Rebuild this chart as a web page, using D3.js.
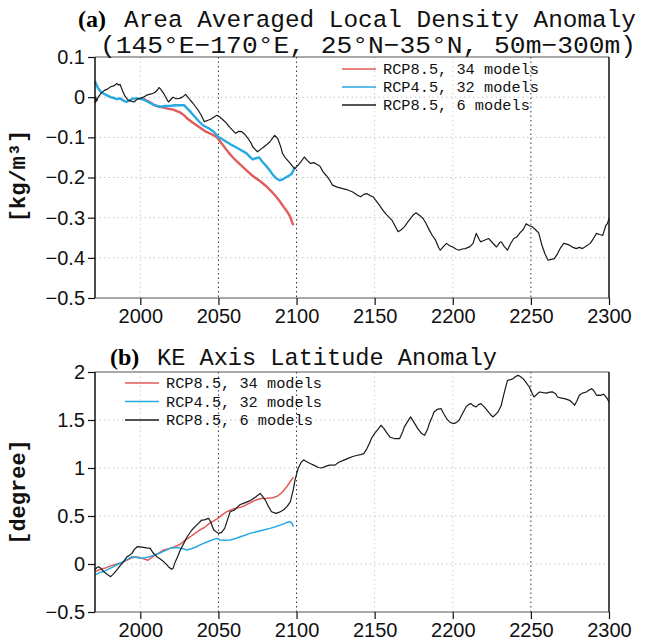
<!DOCTYPE html>
<html>
<head>
<meta charset="utf-8">
<title>Density and KE axis anomaly</title>
<script src="https://cdn.jsdelivr.net/npm/d3@7"></script>
<style>
  body { margin: 0; background: #fff; }
  svg { display: block; }
  .axis text { font-family: "Liberation Sans", Arial, sans-serif; font-size: 20px; fill: #111; }
  .axis path { display: none; }
  .axis line { stroke: #111; stroke-width: 1.2; }
  .mono { font-family: "Liberation Mono", "Courier New", monospace; fill: #111; }
</style>
</head>
<body>
<script>
// values, [year, anomaly]
var years = [2000, 2050, 2100, 2150, 2200, 2250, 2300];
var darkGridYears = [2050, 2100, 2250];

var densTicks = [0.1, 0, -0.1, -0.2, -0.3, -0.4, -0.5];
var keTicks = [2, 1.5, 1, 0.5, 0, -0.5];

var legendNames = ["RCP8.5, 34 models", "RCP4.5, 32 models", "RCP8.5, 6 models"];
var colors = ["#e05c5a", "#27aae1", "#1a1a1a"];

var densRcp85_34 = [[2002,-0.004],[2006,-0.012],[2009,-0.02],[2012,-0.024],[2015,-0.026],[2018,-0.029],[2021,-0.031],[2025,-0.037],[2028,-0.045],[2030,-0.053],[2033,-0.062],[2036,-0.07],[2039,-0.078],[2042,-0.086],[2046,-0.093],[2049,-0.1],[2051,-0.11],[2053,-0.12],[2055,-0.13],[2057,-0.14],[2059,-0.149],[2061,-0.157],[2064,-0.168],[2068,-0.182],[2071,-0.193],[2074,-0.202],[2077,-0.21],[2081,-0.223],[2084,-0.235],[2087,-0.248],[2089,-0.258],[2091,-0.269],[2094,-0.285],[2096,-0.298],[2097,-0.31],[2098,-0.319]];

var densRcp45_32 = [[1971,0.04],[1972,0.03],[1973,0.022],[1975,0.012],[1977,0.008],[1979,0.004],[1981,0.0],[1983,-0.002],[1985,-0.005],[1987,-0.003],[1989,-0.008],[1991,-0.012],[1993,-0.008],[1995,-0.004],[1998,-0.003],[2000,-0.004],[2002,-0.006],[2005,-0.012],[2009,-0.02],[2013,-0.024],[2016,-0.022],[2019,-0.022],[2022,-0.02],[2025,-0.02],[2028,-0.02],[2030,-0.028],[2032,-0.036],[2034,-0.045],[2037,-0.058],[2040,-0.07],[2044,-0.078],[2047,-0.086],[2050,-0.099],[2053,-0.106],[2055,-0.111],[2058,-0.118],[2061,-0.124],[2064,-0.131],[2068,-0.14],[2070,-0.148],[2072,-0.155],[2074,-0.152],[2076,-0.15],[2078,-0.16],[2081,-0.173],[2083,-0.183],[2085,-0.194],[2087,-0.202],[2089,-0.207],[2091,-0.205],[2093,-0.2],[2095,-0.196],[2097,-0.19],[2098,-0.182],[2099,-0.173]];

var densRcp85_6 = [[1971,-0.015],[1971.5,0.0],[1972,-0.01],[1973,0.0],[1975,0.01],[1977,0.017],[1979,0.02],[1981,0.026],[1983,0.028],[1985,0.034],[1986,0.03],[1987,0.032],[1989,0.012],[1990,0.004],[1992,-0.007],[1994,-0.01],[1996,-0.012],[1998,-0.005],[2000,-0.003],[2002,0.0],[2004,0.005],[2007,0.008],[2009,0.011],[2011,0.018],[2012,0.024],[2013,0.02],[2015,0.009],[2017,-0.005],[2018,-0.012],[2020,-0.004],[2021,0.0],[2023,-0.004],[2025,-0.003],[2027,0.0],[2029,0.007],[2031,-0.003],[2033,-0.012],[2035,-0.022],[2037,-0.032],[2039,-0.045],[2041,-0.061],[2043,-0.058],[2045,-0.055],[2047,-0.05],[2049,-0.045],[2051,-0.05],[2053,-0.057],[2055,-0.064],[2057,-0.074],[2059,-0.082],[2061,-0.09],[2063,-0.085],[2065,-0.086],[2067,-0.093],[2069,-0.103],[2071,-0.115],[2072,-0.124],[2074,-0.132],[2075,-0.136],[2077,-0.13],[2079,-0.124],[2081,-0.118],[2083,-0.111],[2085,-0.1],[2086,-0.095],[2088,-0.103],[2090,-0.125],[2091,-0.14],[2093,-0.152],[2096,-0.165],[2098,-0.175],[2099,-0.178],[2101,-0.169],[2103,-0.16],[2105,-0.149],[2107,-0.158],[2109,-0.165],[2111,-0.163],[2113,-0.167],[2115,-0.172],[2117,-0.186],[2119,-0.195],[2121,-0.205],[2123,-0.219],[2126,-0.224],[2129,-0.227],[2132,-0.23],[2136,-0.236],[2139,-0.244],[2141,-0.248],[2143,-0.242],[2145,-0.24],[2147,-0.245],[2149,-0.248],[2151,-0.258],[2153,-0.269],[2155,-0.28],[2157,-0.29],[2159,-0.298],[2161,-0.306],[2163,-0.32],[2165,-0.335],[2167,-0.33],[2169,-0.323],[2171,-0.312],[2173,-0.302],[2175,-0.292],[2176.5,-0.288],[2179,-0.295],[2181,-0.302],[2183,-0.315],[2185,-0.331],[2187,-0.345],[2189,-0.356],[2191,-0.375],[2192,-0.381],[2194,-0.372],[2196,-0.364],[2198,-0.37],[2200,-0.373],[2202,-0.378],[2204,-0.381],[2206,-0.378],[2208,-0.377],[2211,-0.372],[2213,-0.364],[2215,-0.339],[2217,-0.355],[2218,-0.36],[2221,-0.355],[2223,-0.352],[2226,-0.365],[2228,-0.373],[2230,-0.362],[2231,-0.36],[2233,-0.372],[2235,-0.381],[2237,-0.365],[2239,-0.352],[2241,-0.348],[2243,-0.338],[2245,-0.33],[2247,-0.315],[2249,-0.32],[2251,-0.323],[2253,-0.33],[2255,-0.338],[2257,-0.368],[2259,-0.39],[2261,-0.406],[2263,-0.404],[2265,-0.402],[2267,-0.39],[2269,-0.375],[2271,-0.364],[2273,-0.366],[2275,-0.369],[2277,-0.374],[2279,-0.377],[2281,-0.374],[2283,-0.377],[2285,-0.372],[2288,-0.364],[2290,-0.352],[2292,-0.339],[2294,-0.342],[2296,-0.344],[2298,-0.319],[2299,-0.315],[2300,-0.302]];

var keRcp85_34 = [[1971,-0.08],[1974,-0.06],[1977,-0.045],[1980,-0.025],[1983,-0.01],[1987,0.007],[1989,0.02],[1991.5,0.04],[1994,0.06],[1997,0.076],[1999,0.07],[2001,0.059],[2003,0.05],[2005,0.04],[2007,0.065],[2010,0.094],[2013,0.125],[2015,0.146],[2019,0.163],[2022,0.18],[2025,0.2],[2028,0.24],[2032,0.284],[2035,0.32],[2038,0.354],[2041,0.38],[2044,0.42],[2047,0.45],[2050,0.48],[2053,0.52],[2056,0.55],[2060,0.575],[2064,0.59],[2067,0.61],[2070,0.635],[2073,0.66],[2077,0.683],[2081,0.685],[2085,0.69],[2088,0.71],[2091,0.75],[2094,0.81],[2096,0.86],[2098,0.905]];

var keRcp45_32 = [[1971,-0.114],[1974,-0.09],[1977,-0.075],[1980,-0.05],[1983,-0.028],[1986,0.0],[1989,0.024],[1992,0.05],[1994.7,0.076],[1997,0.07],[2000,0.059],[2003,0.065],[2006,0.076],[2009,0.095],[2013,0.118],[2016,0.14],[2019,0.163],[2023,0.173],[2026,0.165],[2030,0.146],[2033,0.162],[2036,0.18],[2039,0.205],[2043,0.232],[2046,0.25],[2049,0.267],[2051,0.25],[2054,0.248],[2057.5,0.25],[2061,0.265],[2064,0.284],[2067,0.3],[2070,0.319],[2073,0.33],[2077,0.347],[2080,0.36],[2083,0.371],[2086,0.385],[2089.5,0.405],[2092,0.42],[2095,0.44],[2097,0.43],[2098,0.388]];

var keRcp85_6 = [[1971,-0.062],[1972,-0.04],[1973.4,-0.028],[1975,-0.05],[1976.6,-0.08],[1979,-0.11],[1981,-0.132],[1983,-0.1],[1985,-0.062],[1987,-0.02],[1989.3,0.024],[1991.5,0.076],[1993,0.09],[1994.7,0.111],[1996,0.15],[1998,0.18],[2000,0.178],[2002,0.173],[2004,0.168],[2006.4,0.163],[2008,0.12],[2010.6,0.076],[2013,0.05],[2015,0.024],[2018,-0.028],[2020,-0.055],[2021,-0.045],[2022,0.007],[2024,0.08],[2025.6,0.146],[2028,0.22],[2030,0.284],[2033,0.354],[2036,0.405],[2039.4,0.458],[2041,0.46],[2043.7,0.475],[2045,0.44],[2047,0.354],[2050,0.319],[2052,0.33],[2054,0.371],[2056,0.47],[2057.5,0.544],[2060,0.56],[2062,0.59],[2064,0.62],[2066,0.631],[2068,0.645],[2071,0.666],[2074,0.7],[2076.7,0.735],[2078,0.71],[2080,0.666],[2082,0.6],[2084,0.544],[2087,0.527],[2089,0.54],[2091.6,0.562],[2094,0.6],[2096,0.648],[2098,0.78],[2099,0.873],[2101,0.995],[2103,1.06],[2104.5,1.085],[2106,1.07],[2108.7,1.047],[2111,1.03],[2114,1.005],[2116,1.0],[2119,1.02],[2121,1.03],[2124.6,1.03],[2127,1.06],[2130,1.08],[2133,1.1],[2136,1.12],[2139,1.133],[2141,1.14],[2143,1.15],[2145,1.2],[2146.6,1.255],[2148,1.31],[2150,1.36],[2152,1.4],[2154,1.445],[2156,1.41],[2158,1.36],[2160,1.32],[2162.6,1.307],[2166,1.307],[2168,1.38],[2169,1.428],[2171,1.48],[2173,1.532],[2175,1.48],[2177.6,1.41],[2180,1.36],[2182,1.341],[2184,1.41],[2185,1.463],[2187,1.54],[2188,1.584],[2190,1.61],[2192.5,1.619],[2194,1.57],[2196,1.515],[2198,1.48],[2200,1.463],[2202,1.47],[2204,1.497],[2206,1.56],[2208.5,1.636],[2210,1.66],[2211.7,1.671],[2213,1.65],[2215,1.636],[2216.5,1.66],[2218,1.671],[2220,1.64],[2222,1.6],[2224,1.56],[2225.6,1.532],[2227,1.55],[2229,1.584],[2231,1.65],[2232,1.723],[2233.5,1.82],[2235,1.913],[2237,1.92],[2238.5,1.93],[2240,1.95],[2241.7,1.965],[2243,1.955],[2245,1.93],[2247,1.89],[2249,1.844],[2250.5,1.79],[2252,1.74],[2254,1.77],[2255.6,1.792],[2258,1.785],[2260,1.78],[2262,1.79],[2264,1.792],[2266,1.77],[2267,1.74],[2269,1.73],[2271.5,1.723],[2273,1.715],[2274.8,1.705],[2276.5,1.68],[2278,1.653],[2279.5,1.7],[2281,1.757],[2283,1.78],[2285.5,1.792],[2287,1.81],[2289,1.827],[2290.5,1.8],[2292,1.757],[2293.5,1.76],[2295,1.757],[2296.5,1.77],[2298,1.74],[2299,1.72],[2300,1.688]];

var W = 646, H = 644;
var left = 95, right = 609;

var svg = d3.select("body").append("svg")
    .attr("width", W)
    .attr("height", H);

var x = d3.scaleLinear().domain([1971, 2300]).range([left, right]);

function fmt(v) {
  return v === 0 ? "0" : d3.format("")(v);
}

function panel(opt) {
  var y = d3.scaleLinear().domain(opt.domain).range([opt.bottom, opt.top]);
  var g = svg.append("g");

  // light grid
  g.selectAll(".hgrid").data(opt.ticks.slice(1, -1)).enter().append("line")
      .attr("x1", left).attr("x2", right)
      .attr("y1", function (d) { return y(d); })
      .attr("y2", function (d) { return y(d); })
      .attr("stroke", "#c4c4c4").attr("stroke-width", 1)
      .attr("stroke-dasharray", "1.5,3");

  g.selectAll(".vgrid").data(years.slice(0, -1)).enter().append("line")
      .attr("y1", opt.top).attr("y2", opt.bottom)
      .attr("x1", function (d) { return x(d); })
      .attr("x2", function (d) { return x(d); })
      .attr("stroke", function (d) { return darkGridYears.indexOf(d) >= 0 ? "#333" : "#d0d0d0"; })
      .attr("stroke-width", 1)
      .attr("stroke-dasharray", "1.5,3");

  // series
  var line = d3.line()
      .x(function (d) { return x(d[0]); })
      .y(function (d) { return y(d[1]); });

  opt.series.forEach(function (s, i) {
    g.append("path")
        .datum(s)
        .attr("fill", "none")
        .attr("stroke", colors[i])
        .attr("stroke-width", opt.widths[i])
        .attr("stroke-linejoin", "round")
        .attr("d", line);
  });

  // frame
  g.append("line").attr("x1", left).attr("x2", right).attr("y1", opt.top).attr("y2", opt.top)
      .attr("stroke", "#555").attr("stroke-width", 1.2);
  g.append("line").attr("x1", left).attr("x2", right).attr("y1", opt.bottom).attr("y2", opt.bottom)
      .attr("stroke", "#555").attr("stroke-width", 1.2);
  g.append("line").attr("x1", left).attr("x2", left).attr("y1", opt.top).attr("y2", opt.bottom)
      .attr("stroke", "#111").attr("stroke-width", 1.5);
  g.append("line").attr("x1", right).attr("x2", right).attr("y1", opt.top).attr("y2", opt.bottom)
      .attr("stroke", "#111").attr("stroke-width", 1.5);

  // axes
  g.append("g").attr("class", "axis")
      .attr("transform", "translate(0," + opt.bottom + ")")
      .call(d3.axisBottom(x).tickValues(years).tickSize(7).tickPadding(4).tickFormat(d3.format("d")));

  g.append("g").attr("class", "axis")
      .attr("transform", "translate(" + left + ",0)")
      .call(d3.axisLeft(y).tickValues(opt.ticks).tickSize(7).tickPadding(3).tickFormat(fmt));

  // y label
  g.append("text").attr("class", "mono")
      .attr("transform", "translate(25," + opt.labelY + ") rotate(-90)")
      .attr("text-anchor", "middle")
      .style("font-size", "22px").style("font-weight", "bold")
      .text(opt.ylabel);

  // legend
  legendNames.forEach(function (name, i) {
    var ly = opt.legend[1] + i * opt.legend[2];
    g.append("line")
        .attr("x1", opt.legend[0]).attr("x2", opt.legend[0] + 34)
        .attr("y1", ly).attr("y2", ly)
        .attr("stroke", colors[i]).attr("stroke-width", 1.6);
    g.append("text").attr("class", "mono")
        .attr("x", opt.legend[0] + 41).attr("y", ly + 5)
        .style("font-size", "15.3px")
        .text(name);
  });

  return g;
}

var ga = panel({
  top: 57, bottom: 298, domain: [-0.5, 0.1], ticks: densTicks,
  series: [densRcp85_34, densRcp45_32, densRcp85_6], widths: [2.4, 2.4, 1.2],
  ylabel: "[kg/m³]", labelY: 176,
  legend: [342, 69, 18]
});

var gb = panel({
  top: 372, bottom: 612, domain: [-0.5, 2], ticks: keTicks,
  series: [keRcp85_34, keRcp45_32, keRcp85_6], widths: [1.5, 1.5, 1.2],
  ylabel: "[degree]", labelY: 492,
  legend: [125, 383, 18.5]
});

// titles
svg.append("text").attr("x", 78).attr("y", 27)
    .style("font-family", "'Liberation Serif', serif").style("font-weight", "bold").style("font-size", "24px")
    .text("(a)");
svg.append("text").attr("class", "mono").attr("x", 124).attr("y", 27)
    .attr("textLength", 512).attr("lengthAdjust", "spacingAndGlyphs")
    .style("font-size", "24.5px")
    .text("Area Averaged Local Density Anomaly");
svg.append("text").attr("class", "mono").attr("x", 100).attr("y", 53)
    .attr("textLength", 536).attr("lengthAdjust", "spacingAndGlyphs")
    .style("font-size", "24.5px")
    .text("(145°E−170°E, 25°N−35°N, 50m−300m)");

svg.append("text").attr("x", 110).attr("y", 365)
    .style("font-family", "'Liberation Serif', serif").style("font-weight", "bold").style("font-size", "24px")
    .text("(b)");
svg.append("text").attr("class", "mono").attr("x", 157).attr("y", 365)
    .attr("textLength", 340).attr("lengthAdjust", "spacingAndGlyphs")
    .style("font-size", "23.6px")
    .text("KE Axis Latitude Anomaly");
</script>
</body>
</html>
